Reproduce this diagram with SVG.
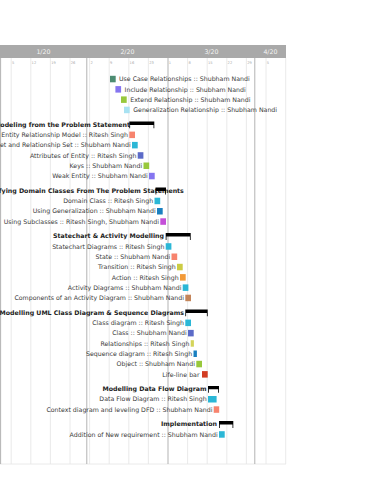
<svg xmlns="http://www.w3.org/2000/svg" width="370" height="480" viewBox="0 0 370 480">
<style>
.t{font-family:"DejaVu Sans",Verdana,sans-serif;font-size:6.25px;fill:#3a3a3a}
.e{text-anchor:end}
.g{font-family:"DejaVu Sans",Verdana,sans-serif;font-size:6.25px;font-weight:bold;fill:#222;text-anchor:end}
.m{font-family:"DejaVu Sans",Verdana,sans-serif;font-size:6.25px;fill:#f4f4f4;text-anchor:middle}
.d{font-family:"DejaVu Sans",Verdana,sans-serif;font-size:3.6px;fill:#a8a8a8}
.wk{stroke:#e4e4e4;stroke-width:0.8}
.mo{stroke:#aaaaaa;stroke-width:0.9}
.cy{fill:#2bb7d6}.sa{fill:#f7846e}.yg{fill:#98c83c}.ms{fill:#8575f0}.sb{fill:#5c6bc8}.bl{fill:#1a80c0}
.gb{fill:#000}
</style>
<g id="timeline">
<rect x="0" y="45" width="286" height="13" fill="#a9a9a9"/>
<text class="m" x="43.4" y="54">1/20</text>
<text class="m" x="127.4" y="54">2/20</text>
<text class="m" x="211.4" y="54">3/20</text>
<text class="m" x="270.4" y="54">4/20</text>
<g>
<line class="wk" x1="11.2" y1="58" x2="11.2" y2="464"/>
<line class="wk" x1="30.8" y1="58" x2="30.8" y2="464"/>
<line class="wk" x1="50.4" y1="58" x2="50.4" y2="464"/>
<line class="wk" x1="70" y1="58" x2="70" y2="464"/>
<line class="wk" x1="89.6" y1="58" x2="89.6" y2="464"/>
<line class="wk" x1="109.2" y1="58" x2="109.2" y2="464"/>
<line class="wk" x1="128.8" y1="58" x2="128.8" y2="464"/>
<line class="wk" x1="148.4" y1="58" x2="148.4" y2="464"/>
<line class="wk" x1="187.6" y1="58" x2="187.6" y2="464"/>
<line class="wk" x1="207.2" y1="58" x2="207.2" y2="464"/>
<line class="wk" x1="226.8" y1="58" x2="226.8" y2="464"/>
<line class="wk" x1="246.4" y1="58" x2="246.4" y2="464"/>
<line class="wk" x1="266" y1="58" x2="266" y2="464"/>
<line class="wk" x1="285.7" y1="58" x2="285.7" y2="464"/>
<line class="wk" x1="0" y1="464" x2="286" y2="464"/>
<line class="mo" x1="0.6" y1="58" x2="0.6" y2="464"/>
<line class="mo" x1="86.8" y1="58" x2="86.8" y2="464"/>
<line class="mo" x1="168" y1="58" x2="168" y2="464"/>
<line class="mo" x1="254.8" y1="58" x2="254.8" y2="464"/>
</g>
<text class="d" x="12" y="63.5">5</text>
<text class="d" x="31.6" y="63.5">12</text>
<text class="d" x="51.2" y="63.5">19</text>
<text class="d" x="70.8" y="63.5">26</text>
<text class="d" x="90.4" y="63.5">2</text>
<text class="d" x="110" y="63.5">9</text>
<text class="d" x="129.6" y="63.5">16</text>
<text class="d" x="149.2" y="63.5">23</text>
<text class="d" x="168.8" y="63.5">1</text>
<text class="d" x="188.4" y="63.5">8</text>
<text class="d" x="208" y="63.5">15</text>
<text class="d" x="227.6" y="63.5">22</text>
<text class="d" x="247.2" y="63.5">29</text>
<text class="d" x="266.8" y="63.5">5</text>
</g>

<g id="usecase">
<rect x="110" y="75.8" width="5.7" height="6.5" fill="#4d8c72"/>
<text class="t" x="119" y="81.2">Use Case Relationships  :: Shubham Nandi</text>
</g>
<g id="include">
<rect x="115.4" y="86.1" width="5.7" height="6.5" class="ms"/>
<text class="t" x="124.6" y="91.5">Include Relationship :: Shubham Nandi</text>
</g>
<g id="extend">
<rect x="121" y="96.4" width="5.7" height="6.5" class="yg"/>
<text class="t" x="130.2" y="101.8">Extend Relationship :: Shubham Nandi</text>
</g>
<g id="generalization">
<rect x="124" y="106.7" width="5.7" height="6.5" fill="#a8e2f2"/>
<text class="t" x="133.2" y="112.1">Generalization Relationship  :: Shubham Nandi</text>
</g>

<g id="group1">
<text class="g" x="130" y="126.7">Modeling from the Problem Statement</text>
<path class="gb" d="M129.3,121.5H154.3V128.3H153.5V124.9H130.1V128.3H129.3Z"/>
</g>
<g id="erm">
<rect x="129.3" y="131.6" width="5.7" height="6.5" class="sa"/>
<text class="t e" x="128" y="137">Entity Relationship Model :: Ritesh Singh</text>
</g>
<g id="entityset">
<rect x="132" y="141.9" width="5.7" height="6.5" class="cy"/>
<text class="t e" x="130.7" y="147.3">Entity Set and Relationship Set :: Shubham Nandi</text>
</g>
<g id="attributes">
<rect x="137.7" y="152.2" width="5.7" height="6.5" class="sb"/>
<text class="t e" x="136.4" y="157.6">Attributes of Entity :: Ritesh Singh</text>
</g>
<g id="keys">
<rect x="143.5" y="162.5" width="5.7" height="6.5" class="yg"/>
<text class="t e" x="142.2" y="167.9">Keys :: Shubham Nandi</text>
</g>
<g id="weakentity">
<rect x="149" y="172.8" width="5.7" height="6.5" class="ms"/>
<text class="t e" x="147.7" y="178.2">Weak Entity  :: Shubham Nandi</text>
</g>

<g id="group2">
<text class="g" x="183.8" y="192.8">Identifying Domain Classes From The Problem Statements</text>
<path class="gb" d="M155.5,187.6H166V194.4H165.2V191H156.3V194.4H155.5Z"/>
</g>
<g id="domainclass">
<rect x="154.5" y="197.7" width="5.7" height="6.5" class="cy"/>
<text class="t e" x="153.2" y="203.1">Domain Class :: Ritesh Singh</text>
</g>
<g id="usinggen">
<rect x="157" y="208" width="5.7" height="6.5" class="bl"/>
<text class="t e" x="155.7" y="213.4">Using Generalization :: Shubham Nandi</text>
</g>
<g id="usingsub">
<rect x="160.3" y="218.3" width="5.7" height="6.5" fill="#c44fd8"/>
<text class="t e" x="159" y="223.7">Using Subclasses  :: Ritesh Singh, Shubham Nandi</text>
</g>

<g id="group3">
<text class="g" x="164" y="238.3">Statechart &amp; Activity Modelling</text>
<path class="gb" d="M165.7,233.1H190.7V239.9H189.9V236.5H166.5V239.9H165.7Z"/>
</g>
<g id="statechart">
<rect x="165.7" y="243.2" width="5.7" height="6.5" class="cy"/>
<text class="t e" x="164.4" y="248.6">Statechart Diagrams :: Ritesh Singh</text>
</g>
<g id="state">
<rect x="171.5" y="253.5" width="5.7" height="6.5" class="sa"/>
<text class="t e" x="170.2" y="258.9">State :: Shubham Nandi</text>
</g>
<g id="transition">
<rect x="177" y="263.8" width="5.7" height="6.5" fill="#cccc44"/>
<text class="t e" x="175.7" y="269.2">Transition :: Ritesh Singh</text>
</g>
<g id="action">
<rect x="180" y="274.1" width="5.7" height="6.5" fill="#f29a38"/>
<text class="t e" x="178.7" y="279.5">Action :: Ritesh Singh</text>
</g>
<g id="activity">
<rect x="182.7" y="284.4" width="5.7" height="6.5" class="cy"/>
<text class="t e" x="181.4" y="289.8">Activity Diagrams :: Shubham Nandi</text>
</g>
<g id="components">
<rect x="185.3" y="294.7" width="5.7" height="6.5" fill="#c4855a"/>
<text class="t e" x="184" y="300.1">Components of an Activity Diagram :: Shubham Nandi</text>
</g>

<g id="group4">
<text class="g" x="184" y="314.7">Modelling UML Class Diagram &amp; Sequence Diagrams</text>
<path class="gb" d="M185.3,309.5H207.7V316.3H206.9V312.9H186.1V316.3H185.3Z"/>
</g>
<g id="classdiagram">
<rect x="185.3" y="319.6" width="5.7" height="6.5" class="cy"/>
<text class="t e" x="184" y="325">Class diagram :: Ritesh Singh</text>
</g>
<g id="class">
<rect x="188" y="329.9" width="5.7" height="6.5" class="sb"/>
<text class="t e" x="186.7" y="335.3">Class :: Shubham Nandi</text>
</g>
<g id="relationships">
<rect x="190.7" y="340.2" width="3.2" height="6.5" fill="#d4d45a"/>
<text class="t e" x="189.4" y="345.6">Relationships :: Ritesh Singh</text>
</g>
<g id="sequence">
<rect x="193.5" y="350.5" width="3.4" height="6.5" class="bl"/>
<text class="t e" x="192.2" y="355.9">Sequence diagram :: Ritesh Singh</text>
</g>
<g id="object">
<rect x="196.3" y="360.8" width="5.7" height="6.5" class="yg"/>
<text class="t e" x="195" y="366.2">Object :: Shubham Nandi</text>
</g>
<g id="lifeline">
<rect x="202" y="371.1" width="5.7" height="6.5" fill="#d23c22"/>
<text class="t e" x="199.5" y="376.5">Life-line bar</text>
</g>

<g id="group5">
<text class="g" x="206.5" y="391.1">Modelling Data Flow Diagram</text>
<path class="gb" d="M208,385.9H219V392.7H218.2V389.3H208.8V392.7H208Z"/>
</g>
<g id="dfd">
<rect x="208" y="396" width="8.6" height="6.5" class="cy"/>
<text class="t e" x="206.7" y="401.4">Data Flow Diagram :: Ritesh Singh</text>
</g>
<g id="context">
<rect x="213.7" y="406.3" width="5.5" height="6.5" class="sa"/>
<text class="t e" x="212.4" y="411.7">Context diagram and leveling DFD :: Shubham Nandi</text>
</g>

<g id="group6">
<text class="g" x="217" y="426.3">Implementation</text>
<path class="gb" d="M219,421.1H233.3V427.9H232.5V424.5H219.8V427.9H219Z"/>
</g>
<g id="addition">
<rect x="219" y="431.2" width="5.7" height="6.5" class="cy"/>
<text class="t e" x="217.7" y="436.6">Addition of New requirement :: Shubham Nandi</text>
</g>
<g id="connectors"></g>
</svg>
